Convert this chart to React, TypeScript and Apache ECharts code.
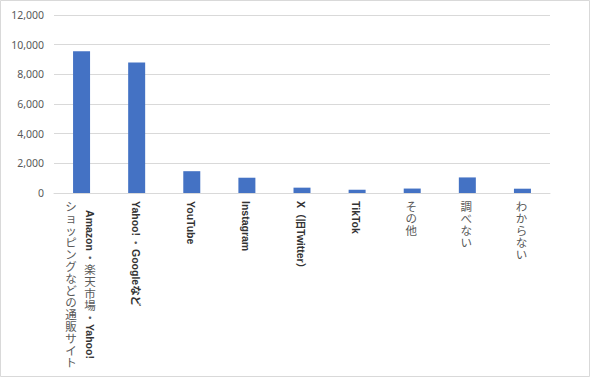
import React, { useEffect, useRef } from "react";
import * as echarts from "echarts";

const categories: string[] = [
  "Amazon・楽天市場・Yahoo!\nショッピングなどの通販サイト",
  "Yahoo!・Googleなど",
  "YouTube",
  "Instagram",
  "X（旧Twitter）",
  "TikTok",
  "その他",
  "調べない",
  "わからない",
];
const values: number[] = [9550, 8800, 1470, 1030, 360, 220, 300, 1050, 290];
const yTicks = { min: 0, max: 12000, interval: 2000 };

const LATIN_FAMILY = '"Liberation Sans", "Noto Sans CJK JP", sans-serif';
const LATIN_SIZE = 10.5;
const LATIN_WEIGHT = "bold";
const CJK_FAMILY = '"Noto Sans CJK JP", sans-serif';
const CJK_SIZE = 11.5;
const CJK_STEP = 12;
const COL_GAP = 19;

let measureCtx: CanvasRenderingContext2D | null = null;
function measure(text: string): number {
  if (!measureCtx) {
    measureCtx = document.createElement("canvas").getContext("2d");
  }
  if (!measureCtx) return text.length * 6;
  measureCtx.font = `${LATIN_WEIGHT} ${LATIN_SIZE}px ${LATIN_FAMILY}`;
  return measureCtx.measureText(text).width;
}

type Token = { text: string; rotated: boolean };
function tokenize(col: string): Token[] {
  return col
    .split(/(・)/)
    .filter((s) => s.length > 0)
    .map((s) => ({ text: s, rotated: /[A-Za-z0-9!]/.test(s) }));
}
function tokenLength(t: Token): number {
  return t.rotated ? measure(t.text) + 1 : t.text.length * CJK_STEP;
}

export default function App() {
  const ref = useRef<HTMLDivElement>(null);
  useEffect(() => {
    const chart = echarts.init(ref.current!, null, { renderer: "svg" });

    const renderLabel = (params: any, api: any) => {
      const idx = api.value(0) as number;
      const [cx, y0] = api.coord([idx, 0]);
      const cols = categories[idx].split("\n").map(tokenize);
      const lens = cols.map((c) => c.reduce((s, t) => s + tokenLength(t), 0));
      const maxLen = Math.max(...lens);
      const top = y0 + 7;
      const n = cols.length;
      const children: any[] = [];
      cols.forEach((tokens, ci) => {
        const x = cx + ((n - 1) / 2) * COL_GAP - ci * COL_GAP - 1;
        let y = top + (maxLen - lens[ci]) / 2;
        tokens.forEach((t) => {
          if (t.rotated) {
            children.push({
              type: "text",
              x,
              y: y + 1,
              rotation: -Math.PI / 2,
              style: {
                text: t.text,
                fill: "#333333",
                fontSize: LATIN_SIZE,
                fontFamily: LATIN_FAMILY,
                fontWeight: LATIN_WEIGHT,
                lineHeight: 11,
                align: "left",
                verticalAlign: "middle",
                textAlign: "left",
                textVerticalAlign: "middle",
              },
            });
            y += tokenLength(t);
          } else {
            for (const ch of t.text) {
              children.push({
                type: "text",
                x,
                y: y + CJK_STEP / 2,
                style: {
                  text: ch,
                  fill: "#595959",
                  fontSize: CJK_SIZE,
                  fontFamily: CJK_FAMILY,
                  lineHeight: 11,
                  align: "center",
                  verticalAlign: "middle",
                  textAlign: "center",
                  textVerticalAlign: "middle",
                },
              });
              y += CJK_STEP;
            }
          }
        });
      });
      return { type: "group", children };
    };

    const option: any = {
      animation: false,
      backgroundColor: "#ffffff",
      graphic: [
        {
          type: "rect",
          shape: { x: 0.5, y: 0.5, width: 589, height: 376 },
          style: { fill: "none", stroke: "#d9d9d9", lineWidth: 1 },
          silent: true,
        },
      ],
      grid: { left: 54, right: 40, top: 15, bottom: 185, containLabel: false },
      xAxis: {
        type: "category",
        data: categories,
        axisLine: { show: true, lineStyle: { color: "#d9d9d9", width: 1 } },
        axisTick: { show: false },
        axisLabel: { show: false },
        splitLine: { show: false },
      },
      yAxis: {
        type: "value",
        min: yTicks.min,
        max: yTicks.max,
        interval: yTicks.interval,
        axisLine: { show: false },
        axisTick: { show: false },
        splitLine: { show: true, lineStyle: { color: "#d9d9d9", width: 1 } },
        axisLabel: {
          margin: 10,
          color: "#595959",
          fontSize: 10.5,
          fontFamily: '"Noto Sans", sans-serif',
          formatter: (v: number) => v.toLocaleString("en-US"),
        },
      },
      series: [
        {
          type: "bar",
          data: values,
          barWidth: 17,
          itemStyle: { color: "#4472C4" },
          silent: true,
        },
        {
          type: "custom",
          data: categories.map((_, i) => [i, 0]),
          renderItem: renderLabel,
          clip: false,
          silent: true,
          z: 10,
        },
      ],
    };
    chart.setOption(option);
    return () => chart.dispose();
  }, []);
  return (
    <div
      ref={ref}
      style={{ position: "absolute", left: 0, top: 0, width: 590, height: 378 }}
    />
  );
}
